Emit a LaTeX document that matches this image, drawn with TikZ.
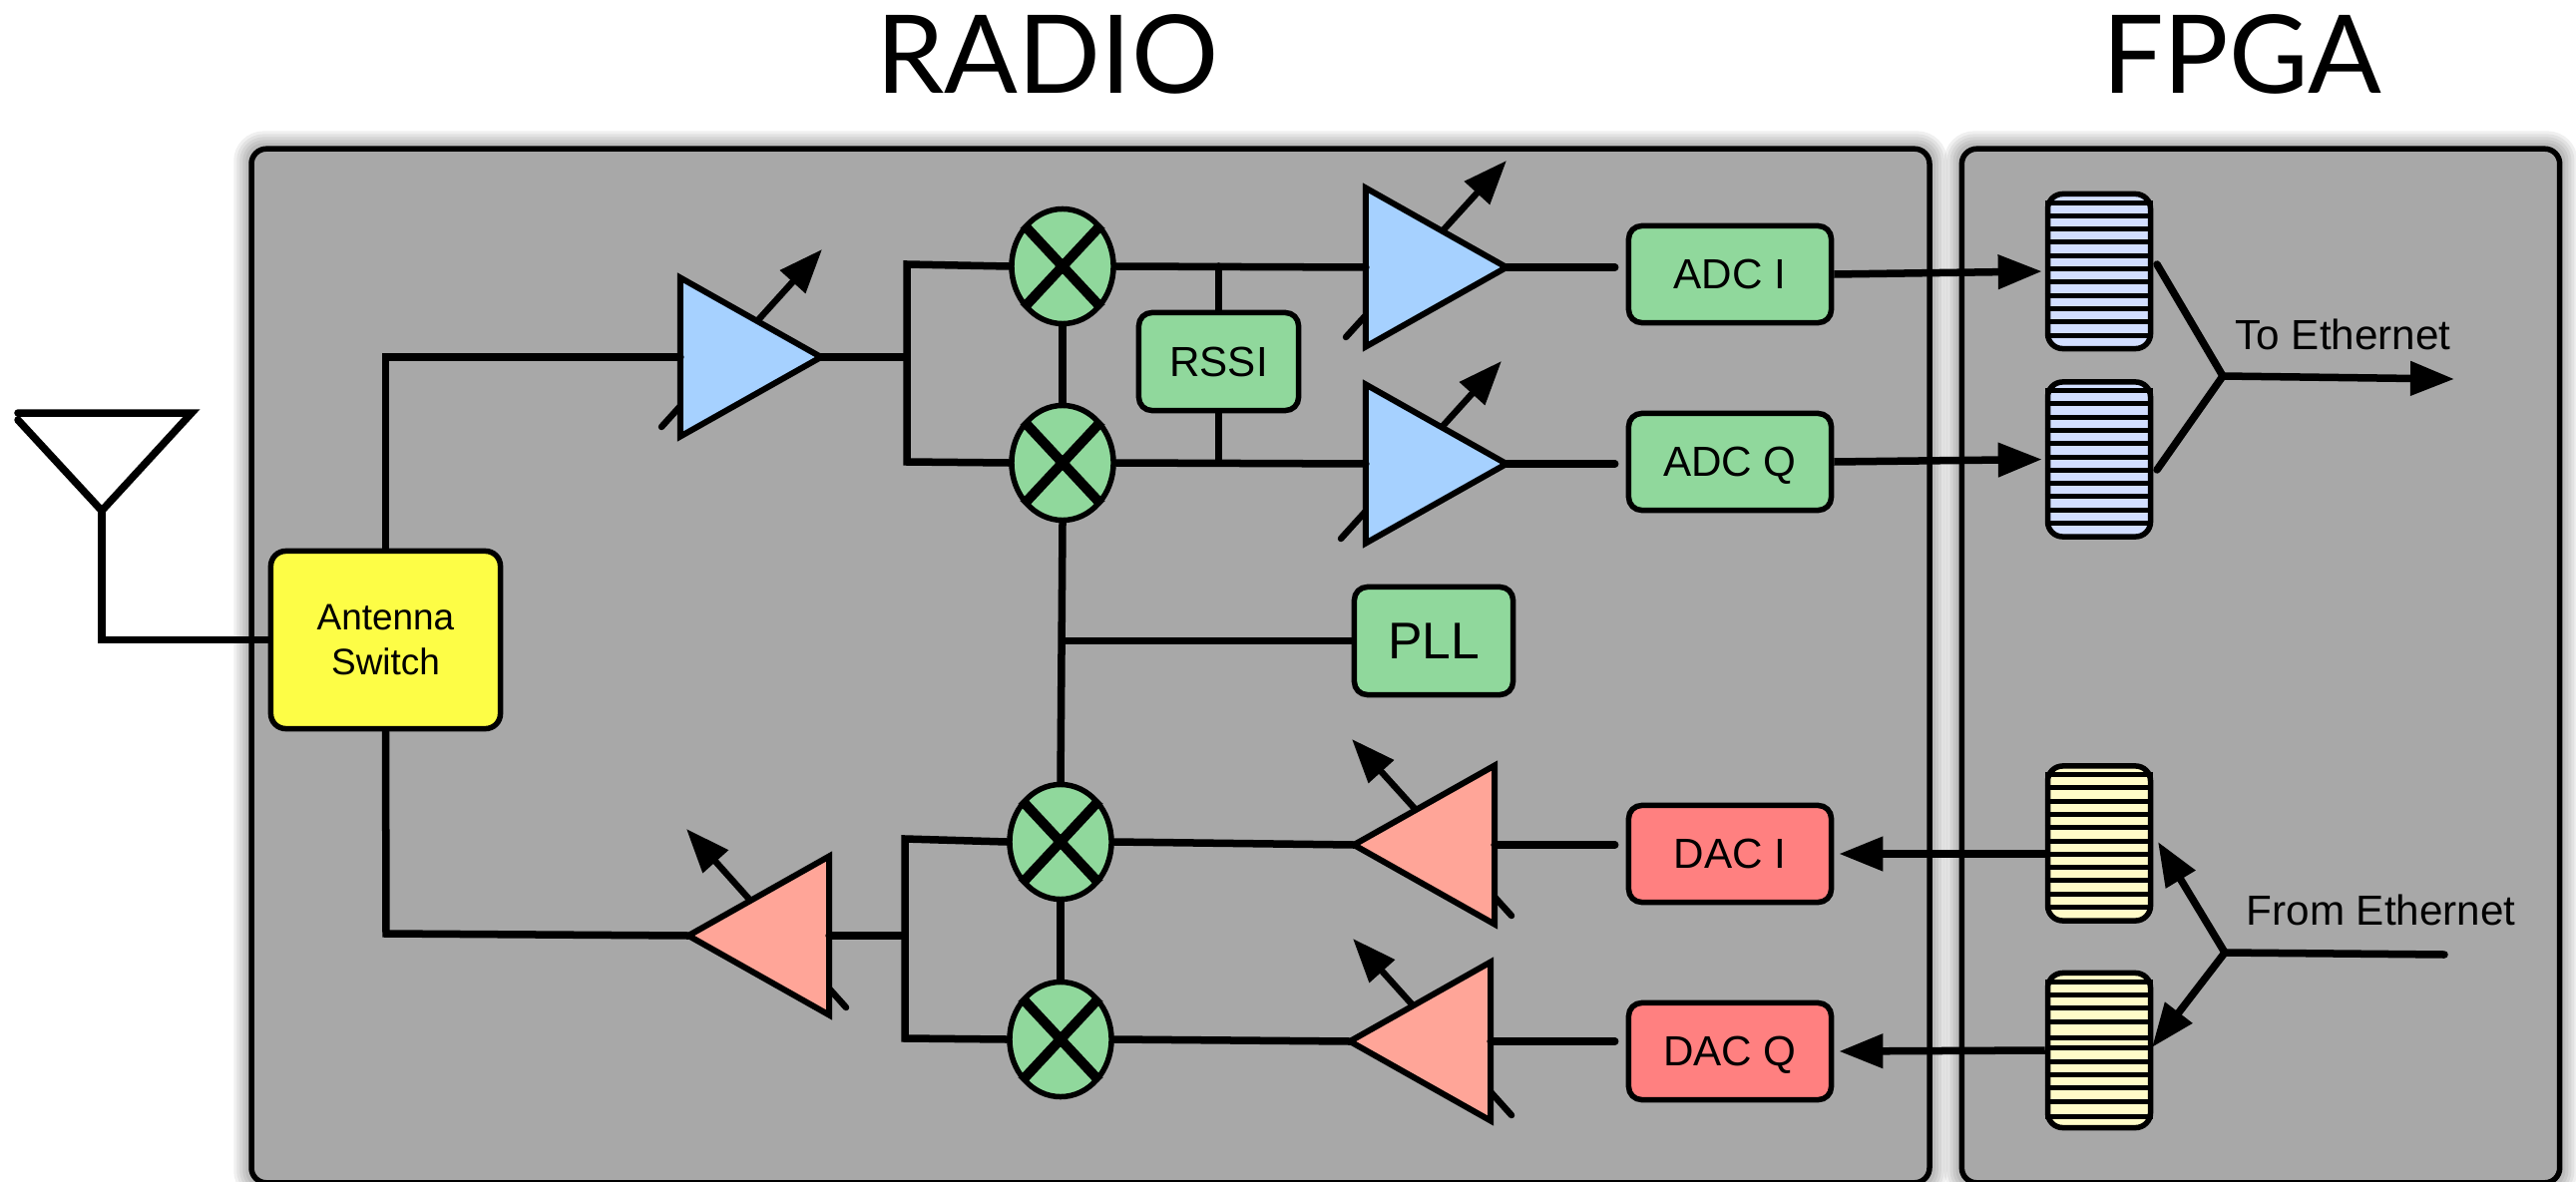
\documentclass[tikz,border=0pt]{standalone}
\usepackage{fontspec}
\setmainfont{Liberation Sans}
\newfontfamily\titlefont{Lato}
\usetikzlibrary{calc,backgrounds,arrows.meta,shapes.geometric}
\definecolor{panelgray}{HTML}{A8A8A8}
\definecolor{boxgreen}{HTML}{90D89C}
\definecolor{boxred}{HTML}{FF8080}
\definecolor{switchyellow}{HTML}{FDFD46}
\definecolor{ampblue}{HTML}{A6D1FF}
\definecolor{amppink}{HTML}{FFA598}
\definecolor{fifoblue}{HTML}{D2DEFF}
\definecolor{fifoyellow}{HTML}{FFFBC8}
\tikzset{
  panel/.style={draw,fill=panelgray,line width=.055cm,rounded corners=.15cm,inner sep=0},
  block/.style={draw,fill=boxgreen,line width=.055cm,rounded corners=.13cm,inner sep=0,
    minimum width=2.03cm,minimum height=.97cm,font=\fontsize{12}{14}\selectfont},
  mixer/.style={ellipse,draw,fill=boxgreen,line width=.055cm,inner sep=0,
    minimum width=1.02cm,minimum height=1.15cm},
  amp/.style={isosceles triangle,isosceles triangle stretches,draw,line width=.06cm,
    inner sep=0,outer sep=0,minimum width=1.59cm,minimum height=1.41cm,anchor=apex},
  fifo/.style={draw,line width=.055cm,rounded corners=.15cm,inner sep=0,
    minimum width=1.03cm,minimum height=1.55cm},
  wire/.style={line width=.075cm,line cap=round},
  ctrl/.style={line width=.065cm,line cap=round,-{Triangle[length=.44cm,width=.33cm]}},
  feed/.style={line width=.075cm,-{Triangle[length=.44cm,width=.33cm]}},
  crossbar/.style={line width=.1cm},
  stripe/.style={line width=.05cm},
  title/.style={font=\titlefont\fontsize{31}{36}\selectfont,anchor=base,inner sep=0},
  note/.style={font=\fontsize{12}{14}\selectfont,anchor=base west,inner sep=0}
}
\begin{document}
\begin{tikzpicture}[x=.01cm,y=-.01cm]
\useasboundingbox (0,0) rectangle (2582,1185);
\node[title] (radiotitle) at (1050,94) {RADIO};
\node[title] (fpgatitle) at (2247,94) {FPGA};
\node[panel,minimum width=16.81cm,minimum height=10.36cm] (radio) at (1093,667.5) {};
\node[panel,minimum width=5.99cm,minimum height=10.36cm] (fpga) at (2266,667.5) {};
\begin{scope}[on background layer,yshift=-.05cm]
\foreach \w in {.06,.12,.18,.24,.30} {
  \draw[black,opacity=.06,line width=\w cm,rounded corners=.15cm]
    (radio.north west) rectangle (radio.south east);
  \draw[black,opacity=.06,line width=\w cm,rounded corners=.15cm]
    (fpga.north west) rectangle (fpga.south east);
}
\end{scope}
\foreach \n/\x/\y/\u/\v in {a/663/428/824/250,b/1349/338/1510/161,c/1344/540/1505/362,
    d/1515/918/1355/741,e/1515/1118/1356/941,f/848/1010/688/831} {
  \coordinate (ctl\n s) at (\x,\y);
  \coordinate (ctl\n e) at (\u,\v);
  \draw[ctrl] (ctl\n s) -- (ctl\n e);
}
\node[amp,fill=ampblue] (ampa) at (823,358) {};
\node[amp,fill=ampblue] (ampb) at (1510,268) {};
\node[amp,fill=ampblue] (ampc) at (1510,465) {};
\node[amp,fill=amppink,shape border rotate=180] (ampd) at (1357,847) {};
\node[amp,fill=amppink,shape border rotate=180] (ampe) at (1353,1044) {};
\node[amp,fill=amppink,shape border rotate=180] (ampf) at (690,938) {};
\node[mixer] (mixa) at (1065,267) {};
\node[mixer] (mixb) at (1065,464) {};
\node[mixer] (mixc) at (1063,844) {};
\node[mixer] (mixd) at (1063,1042) {};
\foreach \m in {mixa,mixb,mixc,mixd} {
  \draw[crossbar] (\m.47) -- (\m.227);
  \draw[crossbar] (\m.133) -- (\m.313);
}
\node[block,fill=switchyellow,minimum width=2.3cm,minimum height=1.78cm,rounded corners=.15cm,
  align=center,font=\fontsize{10.5}{12.8}\selectfont] (antsw) at (386.5,641.5) {Antenna\\Switch};
\node[block,minimum width=1.6cm,minimum height=.98cm] (rssi) at (1221.5,362.5) {RSSI};
\node[block,text depth=0pt] (adci) at (1734,275) {ADC I};
\node[block,text depth=0pt] (adcq) at (1734,463) {ADC Q};
\node[block,minimum width=1.59cm,minimum height=1.08cm,font=\fontsize{14.7}{16}\selectfont] (pll) at (1437,642.5) {PLL};
\node[block,fill=boxred,text depth=0pt] (daci) at (1734,856) {DAC I};
\node[block,fill=boxred,text depth=0pt] (dacq) at (1734,1054) {DAC Q};
\node[fifo,fill=fifoblue] (fifoa) at (2104,272) {};
\node[fifo,fill=fifoblue] (fifob) at (2104,460.5) {};
\node[fifo,fill=fifoyellow] (fifoc) at (2104,845.5) {};
\node[fifo,fill=fifoyellow] (fifod) at (2104,1053) {};
\foreach \f in {fifoa,fifob,fifoc} {
  \foreach \i in {0,...,10} {
    \draw[stripe] ($(\f.north west)+(0,11.3+13.3*\i)$) -- ($(\f.north east)+(0,11.3+13.3*\i)$);
  }
}
\foreach \d in {11.5,24.5,37.5,51.5,67.5,77.5,91.5,104.5,117.5,131.5,146.5} {
  \draw[stripe] ($(fifod.north west)+(0,\d)$) -- ($(fifod.north east)+(0,\d)$);
}
\coordinate (antl) at (18,414);
\coordinate (antr) at (192,414);
\coordinate (antb) at (18,421);
\coordinate (anttip) at (102,512);
\draw[wire] (antl) -- (antr) -- (anttip) -- (antb);
\draw[wire] (anttip) |- (antsw.west);
\coordinate (txcorner) at (387,936);
\draw[wire] (antsw.north) |- (ampa.west);
\draw[wire] (antsw.south) -- (txcorner) -- (ampf.apex);
\coordinate (busat) at (909,265);
\coordinate (busab) at (909,463);
\coordinate (busct) at (907,841);
\coordinate (buscb) at (907,1041);
\draw[wire] (mixa.west) -- (busat) -- (busab) -- (mixb.west);
\draw[wire] (ampa.apex) -- (ampa.apex -| busat);
\draw[wire] (mixc.west) -- (busct) -- (buscb) -- (mixd.west);
\draw[wire] (ampf.east) -- (ampf.east -| busct);
\draw[wire] (mixa) -- (mixb);
\draw[wire] (mixb.south) -- (mixc.north);
\draw[wire] (mixc.south) -- (mixd.north);
\draw[wire] (pll.west) -- (pll.west -| mixb.south);
\draw[wire] (mixa.east) -- (ampb.west);
\draw[wire] (mixb.east) -- (ampc.west);
\draw[wire] (rssi.north) -- (rssi.north |- mixa.east);
\draw[wire] (rssi.south) -- (rssi.south |- mixb.east);
\draw[wire] (mixc.east) -- (ampd.apex);
\draw[wire] (mixd.east) -- (ampe.apex);
\draw[wire] (ampb.apex) -- ($(adci.west |- ampb.apex)+(-11,0)$);
\draw[wire] (ampc.apex) -- ($(adcq.west |- ampc.apex)+(-11,0)$);
\draw[wire] (ampd.east) -- ($(daci.west |- ampd.east)+(-11,0)$);
\draw[wire] (ampe.east) -- ($(dacq.west |- ampe.east)+(-11,0)$);
\draw[feed,shorten >=.03cm] (adci.east) -- (fifoa.west);
\draw[feed,shorten >=.03cm] (adcq.east) -- (fifob.west);
\draw[feed,shorten >=.05cm] (fifoc.west |- daci.east) -- (daci.east);
\draw[feed,shorten >=.05cm] (fifod.west) -- (dacq.east);
\coordinate (forkout) at (2228,377);
\coordinate (fifoatap) at (2162,265);
\coordinate (fifobtap) at (2162,471);
\coordinate (toeth) at (2460,380);
\draw[wire] (fifoatap) -- (forkout) -- (fifobtap);
\draw[feed] (forkout) -- (toeth);
\coordinate (forkin) at (2230,955);
\coordinate (frometh) at (2450,957);
\coordinate (fifoctap) at (2163,844);
\coordinate (fifodtap) at (2157,1050);
\draw[wire] (frometh) -- (forkin);
\draw[feed] (forkin) -- (fifoctap);
\draw[feed] (forkin) -- (fifodtap);
\node[note] (toethlabel) at (2240,350) {To Ethernet};
\node[note] (frethlabel) at (2251,927) {From Ethernet};
\end{tikzpicture}
\end{document}
